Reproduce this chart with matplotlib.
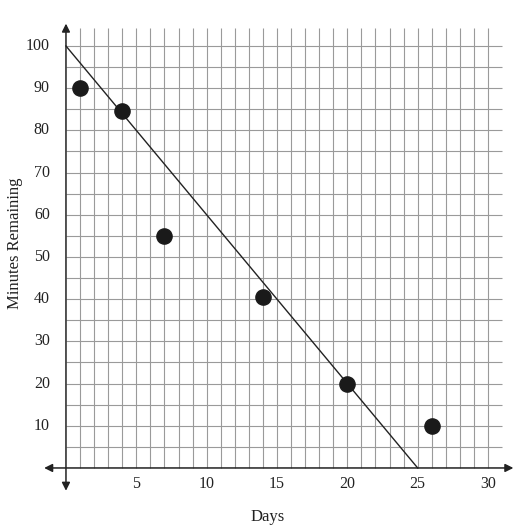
import matplotlib.pyplot as plt
import numpy as np

plt.rcParams['font.family'] = ['Liberation Serif', 'DejaVu Serif']

# data
days = [1, 4, 7, 14, 20, 26]
minutes = [90, 84.5, 55, 40.5, 20, 10]
fit_x = [0, 25]
fit_y = [100, 0]
xticks = [5, 10, 15, 20, 25, 30]
yticks = [10, 20, 30, 40, 50, 60, 70, 80, 90, 100]

fig = plt.figure(figsize=(5.3, 5.31), dpi=100)
ax = fig.add_axes([0.082, 0.0742, 0.8866, 0.8829])
ax.set_xlim(-1.6, 31.8)
ax.set_ylim(-5.6, 105.5)
ax.axis('off')

# grid
ax.vlines(np.arange(1, 31), 0, 104.3, color='#9a9a9a', lw=0.8, zorder=1)
ax.hlines(np.arange(5, 105, 5), 0, 31, color='#9a9a9a', lw=0.8, zorder=1)

# axes with arrows
ax.annotate('', xy=(31.8, 0), xytext=(-1.55, 0),
            arrowprops=dict(arrowstyle='<|-|>', color='#222222', lw=1.1,
                            mutation_scale=12, shrinkA=0, shrinkB=0), zorder=3)
ax.annotate('', xy=(0, 105.3), xytext=(0, -5.4),
            arrowprops=dict(arrowstyle='<|-|>', color='#222222', lw=1.1,
                            mutation_scale=12, shrinkA=0, shrinkB=0), zorder=3)

# fit line and points
ax.plot(fit_x, fit_y, color='#222222', lw=1.0, zorder=4)
ax.scatter(days, minutes, s=120, color='#1a1a1a', zorder=5)

for t in xticks:
    ax.text(t, -3.8, str(t), ha='center', va='center', fontsize=11.5, color='#222222')
for t in yticks:
    ax.text(-1.15, t, str(t), ha='right', va='center', fontsize=11.5, color='#222222')

fig.text(268 / 530, 1 - 517 / 531, 'Days', ha='center', va='center', fontsize=12, color='#222222')
fig.text(15 / 530, 1 - 243 / 531, 'Minutes Remaining', ha='center', va='center',
         rotation=90, fontsize=12, color='#222222')

fig.savefig('out.png', dpi=100)
